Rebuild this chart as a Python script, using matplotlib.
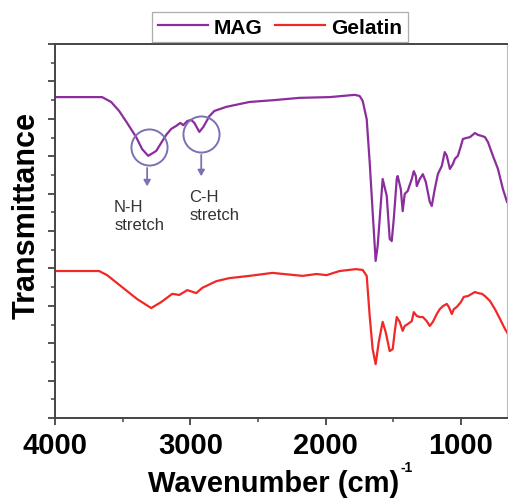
"""FTIR spectra of MAG and gelatin."""

import matplotlib

matplotlib.use("Agg")
import matplotlib.pyplot as plt
from matplotlib.ticker import MultipleLocator

plt.rcParams["font.family"] = ["Liberation Sans", "DejaVu Sans"]

# MAG spectrum (wavenumber, offset transmittance)
mag_wn = [4000, 3674, 3652, 3585, 3526, 3467, 3400, 3356, 3311, 3252, 3178, 3141,
          3104, 3074, 3052, 3022, 2993, 2970, 2933, 2904, 2859, 2822, 2733, 2563,
          2378, 2193, 1970, 1785, 1748, 1726, 1696, 1674, 1652, 1630, 1615, 1593,
          1578, 1548, 1526, 1511, 1496, 1474, 1467, 1444, 1430, 1415, 1393, 1363,
          1348, 1333, 1326, 1304, 1281, 1259, 1230, 1215, 1193, 1170, 1141, 1119,
          1104, 1081, 1059, 1044, 1022, 1000, 985, 956, 933, 896, 874, 844, 822,
          800, 763, 726, 689, 659]
mag_t = [8.58, 8.58, 8.58, 8.45, 8.21, 7.89, 7.51, 7.19, 7.01, 7.14, 7.57, 7.73,
         7.81, 7.89, 7.83, 7.94, 7.97, 7.89, 7.65, 7.78, 8.07, 8.21, 8.32, 8.45,
         8.50, 8.56, 8.58, 8.64, 8.61, 8.48, 7.99, 6.84, 5.51, 4.20, 4.60, 5.67,
         6.39, 5.94, 4.79, 4.73, 5.32, 6.39, 6.47, 6.12, 5.53, 5.99, 6.07, 6.39,
         6.60, 6.47, 6.20, 6.39, 6.52, 6.31, 5.78, 5.67, 6.12, 6.52, 6.74, 7.11,
         7.01, 6.66, 6.79, 6.93, 7.01, 7.27, 7.46, 7.49, 7.51, 7.62, 7.57, 7.54,
         7.51, 7.38, 7.01, 6.66, 6.12, 5.78]

# Gelatin spectrum
gel_wn = [4000, 3674, 3615, 3504, 3393, 3289, 3215, 3133, 3081, 3022, 2956, 2911,
          2807, 2711, 2563, 2393, 2170, 2067, 1993, 1896, 1778, 1726, 1696, 1674,
          1652, 1630, 1607, 1578, 1556, 1526, 1504, 1489, 1474, 1452, 1430, 1415,
          1393, 1363, 1348, 1326, 1304, 1281, 1252, 1230, 1207, 1178, 1156, 1133,
          1104, 1089, 1067, 1052, 1030, 1000, 978, 948, 919, 896, 874, 844, 822,
          785, 748, 711, 674, 652]
gel_t = [3.93, 3.93, 3.82, 3.50, 3.18, 2.94, 3.10, 3.32, 3.29, 3.42, 3.34, 3.48,
         3.66, 3.74, 3.80, 3.88, 3.80, 3.85, 3.82, 3.93, 3.98, 3.96, 3.80, 2.73,
         1.84, 1.44, 2.03, 2.57, 2.30, 1.79, 1.84, 2.30, 2.70, 2.57, 2.33, 2.46,
         2.51, 2.59, 2.83, 2.73, 2.70, 2.70, 2.59, 2.46, 2.57, 2.78, 2.91, 2.99,
         3.05, 2.97, 2.78, 2.91, 2.97, 3.10, 3.24, 3.26, 3.32, 3.37, 3.34, 3.32,
         3.26, 3.13, 2.91, 2.65, 2.38, 2.25]

# band markers: circle centre, arrow start/end, label anchor
bands = [
    {"label": "N-H\nstretch", "centre": (3304, 7.25), "arrow": (3319, 6.76, 6.12),
     "text": (3563, 5.86)},
    {"label": "C-H\nstretch", "centre": (2918, 7.59), "arrow": (2919, 7.11, 6.39),
     "text": (3007, 6.12)},
]

fig = plt.figure(figsize=(5.08, 5.02), dpi=100)
ax = fig.add_axes([55 / 508, 1 - 419 / 502, 452 / 508, 374 / 502])

ax.plot(mag_wn, mag_t, color="#8b2d9c", lw=1.6, label="MAG")
ax.plot(gel_wn, gel_t, color="#f02828", lw=1.6, label="Gelatin")

mark_color = "#7a72b4"
for b in bands:
    cx, cy = b["centre"]
    ax.plot(cx, cy, marker="o", ms=26, mfc="none", mec=mark_color, mew=1.4)
    x, y0, y1 = b["arrow"]
    ax.annotate("", xy=(x, y1), xytext=(x, y0),
                arrowprops=dict(arrowstyle="-|>,head_width=0.2,head_length=0.35",
                                color=mark_color, lw=1.3))
    tx, ty = b["text"]
    ax.text(tx, ty, b["label"], ha="left", va="top", fontsize=12,
            color="#333333", linespacing=1.25)

ax.set_xlim(4000, 659)
ax.set_ylim(0, 10)
ax.xaxis.set_major_locator(MultipleLocator(1000))
ax.xaxis.set_minor_locator(MultipleLocator(500))
ax.yaxis.set_major_locator(MultipleLocator(1))
ax.yaxis.set_minor_locator(MultipleLocator(0.5))
ax.set_yticklabels([])
ax.tick_params(axis="both", which="major", direction="out", length=5, width=1.3,
               color="#444444")
ax.tick_params(axis="both", which="minor", direction="out", length=3, width=1.1,
               color="#444444")
ax.tick_params(axis="x", labelsize=21, pad=4)
for lbl in ax.get_xticklabels():
    lbl.set_fontweight("bold")
for side in ax.spines.values():
    side.set_color("#444444")
    side.set_linewidth(1.4)
ax.spines["right"].set_color("#bbbbbb")
ax.spines["right"].set_linewidth(0.8)

ax.set_xlabel("Wavenumber (cm)", fontsize=21, fontweight="bold")
ax.set_ylabel("Transmittance", fontsize=22, fontweight="bold")
ax.xaxis.label.set_va("center")
ax.xaxis.set_label_coords(0.483, -0.175)
ax.yaxis.label.set_va("center")
ax.yaxis.set_label_coords(-0.062, 0.545)
# small "-1" exponent hung off the top-right corner of the x label
ax.annotate("-1", xy=(1, 1), xycoords=ax.xaxis.label, xytext=(1, 2),
            textcoords="offset points", ha="left", va="center",
            fontsize=10, fontweight="bold")

leg = fig.legend(loc="center", bbox_to_anchor=(280 / 508, 1 - 28 / 502), ncol=2,
                 prop={"size": 15, "weight": "bold"}, handlelength=2.4,
                 handletextpad=0.3, columnspacing=0.6, borderpad=0.25,
                 fancybox=False, frameon=True)
leg.get_frame().set_edgecolor("#999999")
leg.get_frame().set_linewidth(0.9)

fig.savefig("out.png", dpi=100)
